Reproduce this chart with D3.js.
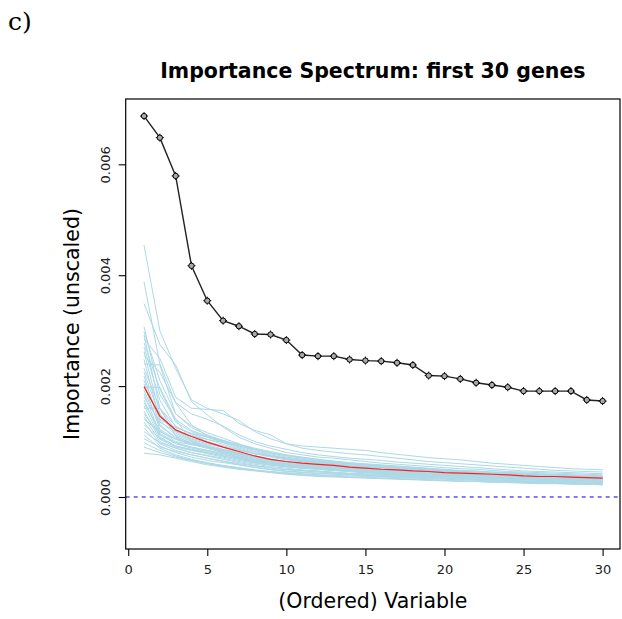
<!DOCTYPE html>
<html>
<head>
<meta charset="utf-8">
<script src="https://cdn.jsdelivr.net/npm/d3@7"></script>
<style>
	html, body { margin: 0; padding: 0; background: #fff; }
	svg { display: block; }
</style>
</head>
<body>
<div id="chart"></div>
<script>
// ===== Data =====
const variables = d3.range(1, 31);

// observed importance spectrum (black)
const observed = [
	0.00687, 0.00648, 0.00579, 0.00417, 0.00354, 0.00318, 0.00308, 0.00294, 0.00293, 0.00283,
	0.00256, 0.00254, 0.00254, 0.00248, 0.00246, 0.00245, 0.00242, 0.00238, 0.00219, 0.00218,
	0.00213, 0.00206, 0.00202, 0.00198, 0.00191, 0.00191, 0.00191, 0.00191, 0.00175, 0.00173
];

// mean of permuted spectra (red)
const permMean = [
	0.00199, 0.00146, 0.00121, 0.00109, 0.00099, 0.00090, 0.00082, 0.00074, 0.00068, 0.00064,
	0.00061, 0.00059, 0.00057, 0.00054, 0.00052, 0.00050, 0.00049, 0.00047, 0.00046, 0.00044,
	0.00043, 0.00042, 0.00041, 0.00040, 0.00038, 0.00037, 0.00037, 0.00036, 0.00035, 0.00034
];

// permuted spectra (light blue), in units of 1e-5
const permUnit = 1e-5;
const permSpectra = [
	[454,300,232,175,160,150,138,118,105,96,92,90,88,86,84,80,77,74,71,69,67,64,61,59,57,55,53,51,50,49],
	[388,240,170,150,140,128,112,100,92,86,80,76,73,70,68,66,63,61,59,57,55,53,51,49,47,46,45,44,43,42],
	[349,275,238,172,148,126,108,96,88,80,76,72,70,67,64,61,59,57,55,53,51,50,48,46,45,44,43,42,41,40],
	[307,185,140,120,110,102,95,88,82,76,72,68,64,60,58,56,54,52,50,49,47,46,45,44,43,42,41,40,39,38],
	[298,210,150,128,116,106,96,86,78,72,68,65,62,60,58,56,54,52,50,48,46,45,44,43,42,41,40,39,38,37],
	[292,160,128,112,100,92,85,78,74,70,66,62,60,58,56,54,52,50,48,47,46,44,42,41,40,39,38,37,36,35],
	[285,250,180,160,158,156,133,120,112,96,88,84,81,78,76,73,70,67,64,62,60,58,56,54,52,50,48,47,46,45],
	[278,195,135,118,108,98,88,80,74,68,64,61,58,56,54,52,50,48,47,46,45,44,43,41,40,39,38,37,36,35],
	[270,175,126,114,104,95,86,78,72,67,63,60,57,55,53,51,49,48,46,45,43,42,41,40,38,37,36,35,34,33],
	[262,150,118,104,96,90,84,78,74,70,67,64,62,60,57,55,53,51,49,47,46,44,43,42,40,39,38,37,36,35],
	[255,225,170,130,110,100,92,84,76,70,66,63,60,57,55,53,51,49,47,46,44,43,42,40,39,38,37,36,35,34],
	[248,138,112,100,92,84,76,70,64,60,57,55,53,51,49,47,45,44,42,41,40,39,38,37,36,35,34,33,32,31],
	[240,238,150,125,112,102,94,86,80,75,71,68,65,62,60,58,56,54,52,50,48,47,45,44,43,41,40,39,38,37],
	[232,160,120,106,98,90,80,72,66,62,59,57,55,53,51,49,48,46,45,43,42,41,40,39,37,36,35,34,33,32],
	[225,145,115,102,94,86,78,72,68,64,60,57,55,53,51,49,47,45,44,42,41,40,39,38,37,36,35,34,33,32],
	[218,130,108,98,90,82,74,68,63,59,56,54,52,50,48,46,45,43,42,41,40,39,37,36,35,34,33,32,31,30],
	[210,140,125,115,108,100,90,82,75,69,65,62,59,57,55,53,51,49,47,45,44,43,42,41,40,39,38,37,36,35],
	[204,122,104,95,88,80,72,66,61,58,55,52,50,48,46,44,43,41,40,39,38,37,36,35,34,33,32,31,30,29],
	[198,198,140,100,90,82,75,68,63,60,57,55,53,51,49,47,46,44,43,42,40,39,38,37,36,35,34,33,32,31],
	[192,128,106,96,90,84,78,72,67,63,60,58,56,54,52,50,48,46,44,43,42,41,40,39,38,37,36,35,34,33],
	[186,115,98,90,84,78,70,64,59,55,52,50,48,46,44,43,42,40,39,38,37,36,35,34,33,32,31,30,29,28],
	[180,135,118,110,104,98,92,86,80,74,70,66,63,61,59,57,55,53,51,49,47,46,44,43,42,41,40,39,38,37],
	[175,112,96,88,82,76,70,65,61,58,55,53,51,49,47,45,44,42,41,40,39,38,36,35,34,33,32,31,30,29],
	[170,120,100,94,90,86,80,74,68,63,60,57,55,53,51,49,48,47,45,44,43,41,40,39,38,37,36,35,34,33],
	[165,108,92,85,80,74,68,62,58,55,52,50,48,46,44,42,41,39,38,37,36,35,34,33,32,31,30,29,28,27],
	[160,160,110,96,88,80,72,66,62,58,55,53,51,49,47,45,43,42,41,40,38,37,36,35,34,33,32,31,30,29],
	[155,104,90,84,78,72,66,61,57,54,52,50,48,46,45,43,42,41,40,39,38,37,36,35,34,33,32,31,30,29],
	[150,112,98,90,84,78,72,66,61,57,54,51,49,47,45,44,42,41,40,39,38,37,36,35,34,33,32,31,30,29],
	[145,100,88,80,75,70,64,59,55,52,49,47,45,43,42,41,40,38,37,36,35,34,33,32,31,30,29,28,27,26],
	[140,118,104,96,90,84,78,72,66,61,57,54,52,50,48,46,44,43,42,41,40,39,38,37,36,35,34,33,32,31],
	[135,96,84,76,70,65,60,56,52,49,47,45,43,41,40,39,38,36,35,34,33,32,31,30,29,28,27,26,25,24],
	[130,106,92,86,80,74,68,63,59,56,53,51,49,47,45,43,42,40,39,38,37,36,35,34,33,32,31,30,29,28],
	[125,92,80,72,66,62,58,54,50,47,45,43,42,40,39,38,37,36,35,34,33,32,31,30,29,28,27,26,25,24],
	[118,98,88,80,74,68,62,57,53,50,48,46,44,42,41,40,39,38,37,36,35,34,33,32,31,30,29,28,27,26],
	[112,88,76,68,62,57,53,49,46,44,42,40,39,38,37,36,35,34,33,32,31,30,29,28,27,26,25,24,23,22],
	[105,90,82,76,70,64,58,53,49,46,44,42,41,40,39,37,36,35,34,33,32,31,30,29,28,27,26,25,24,23],
	[98,84,74,66,60,55,51,48,45,42,40,38,37,36,35,34,33,32,31,30,29,28,27,26,25,24,24,23,23,22],
	[90,80,72,66,61,56,52,48,45,43,41,39,38,36,35,34,33,32,31,30,29,28,27,27,26,25,25,24,24,23],
	[79,76,70,64,58,54,50,47,44,41,39,37,36,35,34,33,32,31,30,29,28,28,27,26,26,25,25,24,24,23]
];

const xTicks = [0, 5, 10, 15, 20, 25, 30];
const yTicks = [0, 0.002, 0.004, 0.006];

const titleText = 'Importance Spectrum: first 30 genes';
const xLabel = '(Ordered) Variable';
const yLabel = 'Importance (unscaled)';
const panelLabel = 'c)';

// ===== Layout =====
const width = 622;
const height = 619;
const box = { left: 125.7, right: 620, top: 99, bottom: 549 };
const sans = '"DejaVu Sans", Verdana, sans-serif';

const svg = d3.select('#chart')
	.append('svg')
	.attr('width', width)
	.attr('height', height);

// ===== Scales =====
const x = d3.scaleLinear()
	.domain([-0.16, 31.1])
	.range([box.left, box.right]);

const y = d3.scaleLinear()
	.domain([-0.000938, 0.007178])
	.range([box.bottom, box.top]);

const line = d3.line()
	.x((d, i) => x(variables[i]))
	.y(d => y(d));

// ===== Zero reference line =====
svg.append('line')
	.attr('x1', box.left)
	.attr('x2', box.right)
	.attr('y1', y(0))
	.attr('y2', y(0))
	.attr('stroke', '#0000cc')
	.attr('stroke-width', 1)
	.attr('stroke-dasharray', '4,4');

// ===== Permuted spectra =====
svg.append('g')
	.selectAll('path')
	.data(permSpectra)
	.enter()
	.append('path')
	.attr('d', d => line(d.map(v => v * permUnit)))
	.attr('fill', 'none')
	.attr('stroke', 'lightblue')
	.attr('stroke-width', 1);

svg.append('path')
	.attr('d', line(permMean))
	.attr('fill', 'none')
	.attr('stroke', '#ff2020')
	.attr('stroke-width', 1.2);

// ===== Observed spectrum =====
svg.append('path')
	.attr('d', line(observed))
	.attr('fill', 'none')
	.attr('stroke', '#222')
	.attr('stroke-width', 1.4);

const marker = svg.append('g')
	.selectAll('g')
	.data(observed)
	.enter()
	.append('g')
	.attr('transform', (d, i) => `translate(${x(variables[i])},${y(d)})`);

marker.append('path')
	.attr('d', 'M-4,0H4M0,-4V4')
	.attr('stroke', '#000')
	.attr('stroke-width', 1);

marker.append('circle')
	.attr('r', 2.7)
	.attr('fill', '#aaa')
	.attr('stroke', '#000')
	.attr('stroke-width', 1);

// ===== Box =====
svg.append('rect')
	.attr('x', box.left)
	.attr('y', box.top)
	.attr('width', box.right - box.left)
	.attr('height', box.bottom - box.top)
	.attr('fill', 'none')
	.attr('stroke', '#000')
	.attr('stroke-width', 1.2);

// ===== Axes =====
const xAxis = svg.append('g')
	.attr('transform', `translate(0,${box.bottom})`)
	.call(d3.axisBottom(x).tickValues(xTicks).tickSize(7).tickPadding(9).tickFormat(d3.format('d')));
xAxis.select('.domain').remove();

const yAxis = svg.append('g')
	.attr('transform', `translate(${box.left},0)`)
	.call(d3.axisLeft(y).tickValues(yTicks).tickSize(7).tickFormat(d3.format('.3f')));
yAxis.select('.domain').remove();
// tick labels run upward along the axis
yAxis.selectAll('text')
	.attr('transform', 'translate(-16,0) rotate(-90)')
	.attr('x', 0)
	.attr('y', 0)
	.attr('dy', 0)
	.attr('text-anchor', 'middle');

svg.selectAll('.tick line')
	.attr('stroke', '#000')
	.attr('stroke-width', 1.1);

svg.selectAll('.tick text')
	.attr('font-family', sans)
	.attr('font-size', '13px')
	.attr('fill', '#222');

// ===== Labels =====
svg.append('text')
	.attr('x', (box.left + box.right) / 2)
	.attr('y', 78)
	.attr('text-anchor', 'middle')
	.attr('font-family', sans)
	.attr('font-weight', 'bold')
	.attr('font-size', '20.5px')
	.text(titleText);

svg.append('text')
	.attr('x', (box.left + box.right) / 2)
	.attr('y', 608)
	.attr('text-anchor', 'middle')
	.attr('font-family', sans)
	.attr('font-size', '20.5px')
	.text(xLabel);

svg.append('text')
	.attr('transform', `translate(79,${(box.top + box.bottom) / 2}) rotate(-90)`)
	.attr('text-anchor', 'middle')
	.attr('font-family', sans)
	.attr('font-size', '20.5px')
	.text(yLabel);

svg.append('text')
	.attr('x', 8)
	.attr('y', 30)
	.attr('font-family', '"DejaVu Serif", "Liberation Serif", serif')
	.attr('font-size', '25px')
	.text(panelLabel);
</script>
</body>
</html>
